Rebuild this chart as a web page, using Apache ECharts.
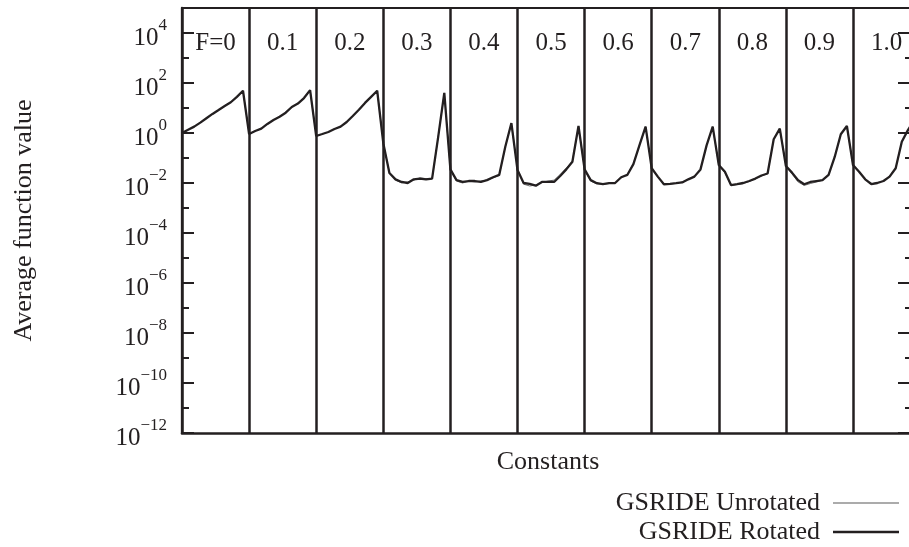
<!DOCTYPE html>
<html>
<head>
<meta charset="utf-8">
<script src="https://cdn.jsdelivr.net/npm/echarts@6/dist/echarts.min.js"></script>
<style>
  html, body { margin: 0; padding: 0; background: #fff; }
  #chart { width: 909px; height: 547px; }
</style>
</head>
<body>
<div id="chart"></div>
<script>
// Scale factor F for each block of runs; within a block the 11 runs are plotted side by side.
const groupLabels = ['F=0', '0.1', '0.2', '0.3', '0.4', '0.5', '0.6', '0.7', '0.8', '0.9', '1.0'];
const runsPerGroup = 11;

// Average function value, GSRIDE on the rotated problem (one row per F).
const rotatedByF = [
  [1.0, 1.35, 1.8, 2.6, 3.9, 5.8, 8.3, 12, 17, 28, 49],
  [0.91, 1.2, 1.5, 2.3, 3.3, 4.5, 6.5, 11, 15, 25, 52],
  [0.76, 0.91, 1.1, 1.45, 1.8, 2.75, 4.8, 8.5, 16, 28, 49],
  [0.39, 0.025, 0.014, 0.011, 0.010, 0.014, 0.015, 0.014, 0.015, 0.7, 40],
  [0.035, 0.013, 0.011, 0.012, 0.012, 0.011, 0.013, 0.017, 0.021, 0.28, 2.5],
  [0.033, 0.010, 0.0093, 0.0078, 0.011, 0.011, 0.011, 0.019, 0.035, 0.071, 1.9],
  [0.035, 0.013, 0.0098, 0.0091, 0.0098, 0.010, 0.017, 0.021, 0.057, 0.33, 1.8],
  [0.039, 0.018, 0.0089, 0.0093, 0.0098, 0.0105, 0.014, 0.018, 0.035, 0.32, 1.8],
  [0.052, 0.028, 0.0083, 0.0091, 0.010, 0.012, 0.015, 0.020, 0.024, 0.56, 1.5],
  [0.048, 0.026, 0.013, 0.0089, 0.011, 0.012, 0.013, 0.021, 0.11, 0.89, 1.9],
  [0.052, 0.028, 0.014, 0.0091, 0.010, 0.012, 0.018, 0.039, 0.45, 1.3, 3.2]
];

// Average function value, GSRIDE on the unrotated problem.
const unrotatedByF = [
  [1.0, 1.35, 1.8, 2.6, 3.9, 5.8, 8.3, 12, 17, 28, 49],
  [0.91, 1.2, 1.5, 2.3, 3.3, 4.5, 6.5, 11, 15, 25, 52],
  [0.76, 0.91, 1.1, 1.45, 1.8, 2.75, 4.8, 8.5, 16, 28, 49],
  [0.39, 0.027, 0.013, 0.010, 0.011, 0.013, 0.016, 0.015, 0.015, 0.7, 40],
  [0.033, 0.012, 0.010, 0.012, 0.011, 0.012, 0.013, 0.016, 0.020, 0.28, 2.5],
  [0.036, 0.009, 0.0076, 0.0083, 0.0105, 0.012, 0.013, 0.022, 0.04, 0.075, 1.9],
  [0.033, 0.012, 0.0092, 0.0088, 0.0095, 0.010, 0.016, 0.022, 0.06, 0.33, 1.8],
  [0.041, 0.017, 0.0092, 0.0090, 0.0097, 0.011, 0.014, 0.018, 0.035, 0.32, 1.8],
  [0.050, 0.026, 0.0079, 0.0087, 0.0095, 0.0115, 0.015, 0.019, 0.024, 0.56, 1.5],
  [0.052, 0.023, 0.011, 0.0080, 0.0095, 0.011, 0.013, 0.022, 0.11, 0.89, 1.9],
  [0.050, 0.027, 0.014, 0.0092, 0.0105, 0.012, 0.019, 0.04, 0.45, 1.3, 3.2]
];

// Decades carrying a labelled tick, and the unlabelled decades in between.
const majorExponents = [-12, -10, -8, -6, -4, -2, 0, 2, 4];
const minorExponents = [-11, -9, -7, -5, -3, -1, 1, 3];

const INK = '#231f20';
const FONT = '"Liberation Serif", "DejaVu Serif", serif';

const majorValues = majorExponents.map(e => Math.pow(10, e));
const minorValues = minorExponents.map(e => Math.pow(10, e));
const groupCentres = groupLabels.map((_, k) => k * runsPerGroup + runsPerGroup / 2);

function toPoints(rows) {
  const pts = [];
  rows.forEach((row, g) => row.forEach((v, i) => pts.push([g * runsPerGroup + i, v])));
  return pts;
}

function powerLabel(v) {
  const e = Math.round(Math.log10(v));
  const exp = e < 0 ? '\u2212' + (-e) : String(e);
  return '{b|10}{e|' + exp + '}';
}

const chart = echarts.init(document.getElementById('chart'), null, { renderer: 'canvas' });

const logAxisBase = {
  type: 'log',
  logBase: 10,
  min: 1e-12,
  max: 1e5,
  offset: 0,
  splitLine: { show: false },
  minorTick: { show: false },
  minorSplitLine: { show: false }
};

chart.setOption({
  animation: false,
  backgroundColor: '#ffffff',
  textStyle: { fontFamily: FONT, color: INK },
  grid: { left: 182, top: 8, width: 732, height: 425, containLabel: false, outerBoundsMode: 'none' },
  legend: [
    {
      data: [{ name: 'GSRIDE Unrotated', itemStyle: { color: '#8f8f8f' } }],
      right: 10, top: 490, padding: 0,
      align: 'right', icon: 'rect', itemWidth: 66, itemHeight: 1.3,
      textStyle: { fontFamily: FONT, fontSize: 26, color: INK, padding: [0, 8, 0, 0] }
    },
    {
      data: [{ name: 'GSRIDE Rotated', itemStyle: { color: INK } }],
      right: 10, top: 519, padding: 0,
      align: 'right', icon: 'rect', itemWidth: 66, itemHeight: 2.4,
      textStyle: { fontFamily: FONT, fontSize: 26, color: INK, padding: [0, 8, 0, 0] }
    }
  ],
  xAxis: [
    {
      type: 'value',
      position: 'bottom',
      min: 0,
      max: 120,
      interval: runsPerGroup,
      name: 'Constants',
      nameLocation: 'middle',
      nameGap: 16,
      nameTextStyle: { fontFamily: FONT, fontSize: 26, color: INK },
      axisLine: { show: true, onZero: false, lineStyle: { color: INK, width: 2.6 } },
      axisTick: { show: false },
      axisLabel: { show: false },
      splitLine: { show: true, lineStyle: { color: INK, width: 2.5, type: 'solid' } }
    },
    {
      type: 'value',
      position: 'top',
      min: 0,
      max: 120,
      axisLine: { show: true, onZero: false, lineStyle: { color: INK, width: 2 } },
      axisTick: { show: false },
      splitLine: { show: false },
      axisLabel: {
        show: true,
        inside: true,
        margin: 23,
        customValues: groupCentres,
        fontFamily: FONT,
        fontSize: 25,
        color: INK,
        formatter: v => groupLabels[Math.floor(v / runsPerGroup)]
      }
    }
  ],
  yAxis: [
    Object.assign({}, logAxisBase, {
      position: 'left',
      name: 'Average function value',
      nameLocation: 'middle',
      nameGap: 145,
      nameRotate: 90,
      nameTextStyle: { fontFamily: FONT, fontSize: 26, color: INK },
      axisLine: { show: true, onZero: false, lineStyle: { color: INK, width: 2.3 } },
      axisTick: { show: true, inside: true, length: 12, customValues: majorValues, lineStyle: { color: INK, width: 2 } },
      axisLabel: {
        show: true,
        margin: 15,
        customValues: majorValues,
        formatter: powerLabel,
        padding: [2, 0, 0, 0],
        rich: {
          b: { fontFamily: FONT, fontSize: 25, lineHeight: 34, verticalAlign: 'bottom', color: INK },
          e: { fontFamily: FONT, fontSize: 17, lineHeight: 32, verticalAlign: 'top', color: INK }
        }
      }
    }),
    Object.assign({}, logAxisBase, {
      position: 'left',
      axisLine: { show: false, onZero: false },
      axisTick: { show: true, inside: true, length: 7, customValues: minorValues, lineStyle: { color: INK, width: 2 } },
      axisLabel: { show: false }
    }),
    Object.assign({}, logAxisBase, {
      position: 'right',
      axisLine: { show: true, onZero: false, lineStyle: { color: INK, width: 2.3 } },
      axisTick: { show: true, inside: true, length: 16, customValues: majorValues, lineStyle: { color: INK, width: 2 } },
      axisLabel: { show: false }
    }),
    Object.assign({}, logAxisBase, {
      position: 'right',
      axisLine: { show: false, onZero: false },
      axisTick: { show: true, inside: true, length: 9, customValues: minorValues, lineStyle: { color: INK, width: 2 } },
      axisLabel: { show: false }
    })
  ],
  series: [
    {
      name: 'GSRIDE Unrotated',
      type: 'line',
      xAxisIndex: 0,
      yAxisIndex: 0,
      symbol: 'none',
      clip: true,
      lineStyle: { color: '#6e6e6e', width: 1 },
      itemStyle: { color: '#8f8f8f' },
      data: toPoints(unrotatedByF),
      z: 3
    },
    {
      name: 'GSRIDE Rotated',
      type: 'line',
      xAxisIndex: 0,
      yAxisIndex: 0,
      symbol: 'none',
      clip: true,
      lineStyle: { color: INK, width: 2.3 },
      itemStyle: { color: INK },
      data: toPoints(rotatedByF),
      z: 4
    }
  ]
});
</script>
</body>
</html>
